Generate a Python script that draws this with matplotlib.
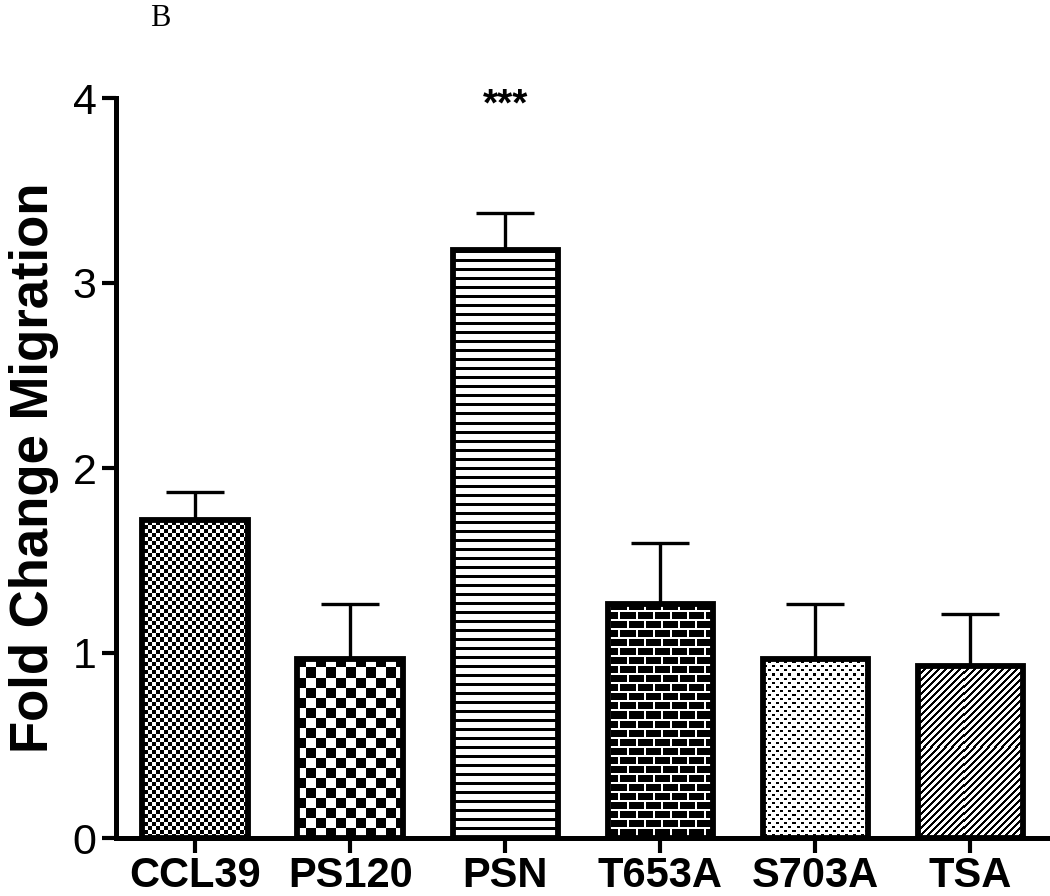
import numpy as np
import matplotlib
matplotlib.use("Agg")
import matplotlib.pyplot as plt

# data
groups = ["CCL39", "PS120", "PSN", "T653A", "S703A", "TSA"]
means = [1.72, 0.97, 3.18, 1.265, 0.97, 0.93]
upper = [1.87, 1.265, 3.38, 1.595, 1.265, 1.21]
errs = [u - m for u, m in zip(upper, means)]
yticks = [0, 1, 2, 3, 4]

plt.rcParams['font.family'] = ['Liberation Sans', 'DejaVu Sans']

fig = plt.figure(figsize=(10.5, 8.96), dpi=100)
ax = fig.add_axes([116 / 1050, 1 - 838 / 896, (1048 - 116) / 1050, (838 - 98) / 896])

x = np.arange(len(groups))
xlim = (-0.51, 5.5)
ax.set_xlim(*xlim)
ax.set_ylim(0, 4)

# pixel-sized fill patterns, laid over the whole axes and clipped to each bar
fig.canvas.draw()
bb = ax.get_window_extent()
W, H = int(round(bb.width)), int(round(bb.height))
yy, xx = np.mgrid[0:H, 0:W]


def checker(s):
    return ((yy // s + xx // s) % 2).astype(float)


def bricks():
    rh, bw = 9, 17
    off = ((yy // rh) % 2) * (bw // 2)
    img = np.zeros((H, W))
    img[(yy % rh) < 2] = 1
    img[((xx + off) % bw) < 2] = 1
    return img


def dots():
    img = np.ones((H, W))
    row = yy // 4
    img[((yy % 4) < 2) & (((xx + (row % 2) * 4) % 8) < 3)] = 0
    return img


def hlines():
    return ((yy % 9) >= 3).astype(float)


def diag():
    return (((xx + yy) % 7) >= 3).astype(float)


textures = [checker(4), checker(10), hlines(), bricks(), dots(), diag()]

bars = ax.bar(x, means, width=0.68, facecolor="none", edgecolor="black",
              linewidth=4.2, zorder=3)
for b, tex in zip(bars, textures):
    im = ax.imshow(tex, cmap="gray", vmin=0, vmax=1,
                   extent=[xlim[0], xlim[1], 0, 4], aspect="auto",
                   interpolation="nearest", zorder=2)
    im.set_clip_path(b)

ax.errorbar(x, means, yerr=[np.zeros(len(errs)), errs], fmt="none",
            ecolor="black", elinewidth=2.4, capsize=21, capthick=2.4, zorder=2.5)

ax.text(x[2], 3.96, "***", ha="center", va="center", fontsize=28, fontweight="bold")

ax.spines["top"].set_visible(False)
ax.spines["right"].set_visible(False)
ax.spines["left"].set_linewidth(3.6)
ax.spines["bottom"].set_linewidth(3.6)

ax.set_yticks(yticks)
ax.set_yticklabels([str(t) for t in yticks], fontsize=31)
ax.set_xticks(x)
ax.set_xticklabels(groups, fontsize=30, fontweight="bold")
ax.tick_params(axis="y", length=10, width=3, pad=4)
ax.tick_params(axis="x", length=11, width=3, pad=2)

ax.set_ylabel("Fold Change Migration", fontsize=38, fontweight="bold", labelpad=10)

fig.text(160 / 1050, 1 - 18 / 896, "B", family="Liberation Serif",
         fontsize=22, ha="center", va="center")

fig.savefig("out.png", dpi=100)
